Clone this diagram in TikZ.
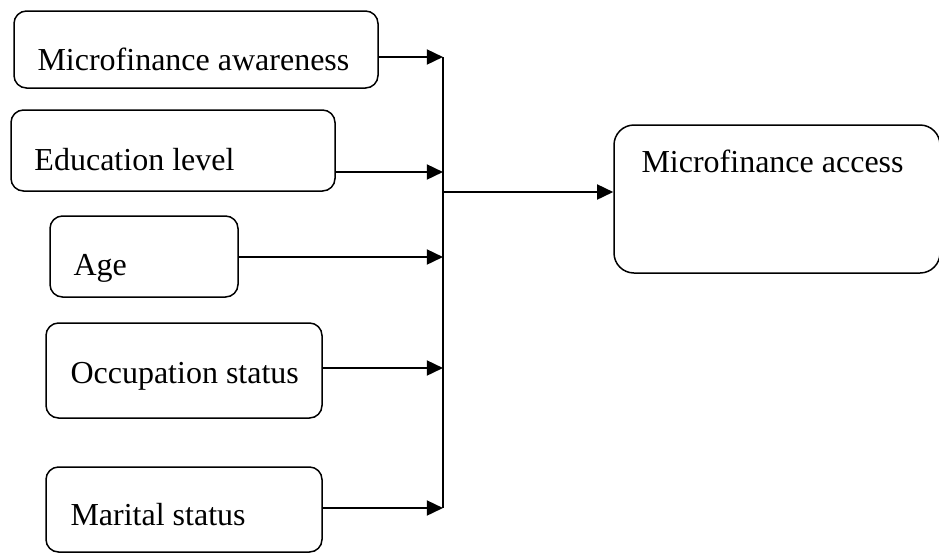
\documentclass[tikz,border=0pt]{standalone}
\usepackage{fontspec}
\setmainfont{Liberation Serif}
\usetikzlibrary{arrows.meta,positioning,fit,calc}

\begin{document}
\begin{tikzpicture}[x=0.4pt,y=-0.4pt]
            \tikzset{
              box/.style={draw, rounded corners=5pt, line width=0.6pt, inner sep=0pt},
              lbl/.style={anchor=base west, inner sep=0pt, font=\fontsize{12.8}{15}\selectfont},
              link/.style={line width=0.9pt, -{Triangle[length=6.5pt,width=6pt]}},
            }
            \useasboundingbox (0,0) rectangle (939,554);
            % factor boxes
            \node[box, fit={(14,11) (378,88)}] (aware) {};
            \node[box, fit={(11,110) (335,191)}] (edu) {};
            \node[box, fit={(50,216) (238,297)}] (age) {};
            \node[box, fit={(46,323) (322,418)}] (occ) {};
            \node[box, fit={(46,467) (322,552)}] (mar) {};
            \node[box, rounded corners=8pt, fit={(614,125) (940,273)}] (access) {};
            \node[lbl] (aware-t) at (37,70) {Microfinance awareness};
            \node[lbl] (edu-t) at (34,170) {Education level};
            \node[lbl] (age-t) at (73,275) {Age};
            \node[lbl] (occ-t) at (70,383) {Occupation status};
            \node[lbl] (mar-t) at (70,525) {Marital status};
            \node[lbl] (access-t) at (641,172) {Microfinance access};
            % trunk
            \coordinate (t1) at (443,57);
            \coordinate (t2) at (443,172);
            \coordinate (t3) at (443,257);
            \coordinate (t4) at (443,368);
            \coordinate (t5) at (443,508);
            \coordinate (tm) at (443,192);
            \draw[line width=0.9pt] (t1) -- (t5);
            \draw[link] (aware.east |- t1) -- (t1);
            \draw[link] (edu.east |- t2) -- (t2);
            \draw[link] (age.east |- t3) -- (t3);
            \draw[link] (occ.east |- t4) -- (t4);
            \draw[link] (mar.east |- t5) -- (t5);
            \draw[link] (tm) -- (access.west |- tm);
\end{tikzpicture}
\end{document}
